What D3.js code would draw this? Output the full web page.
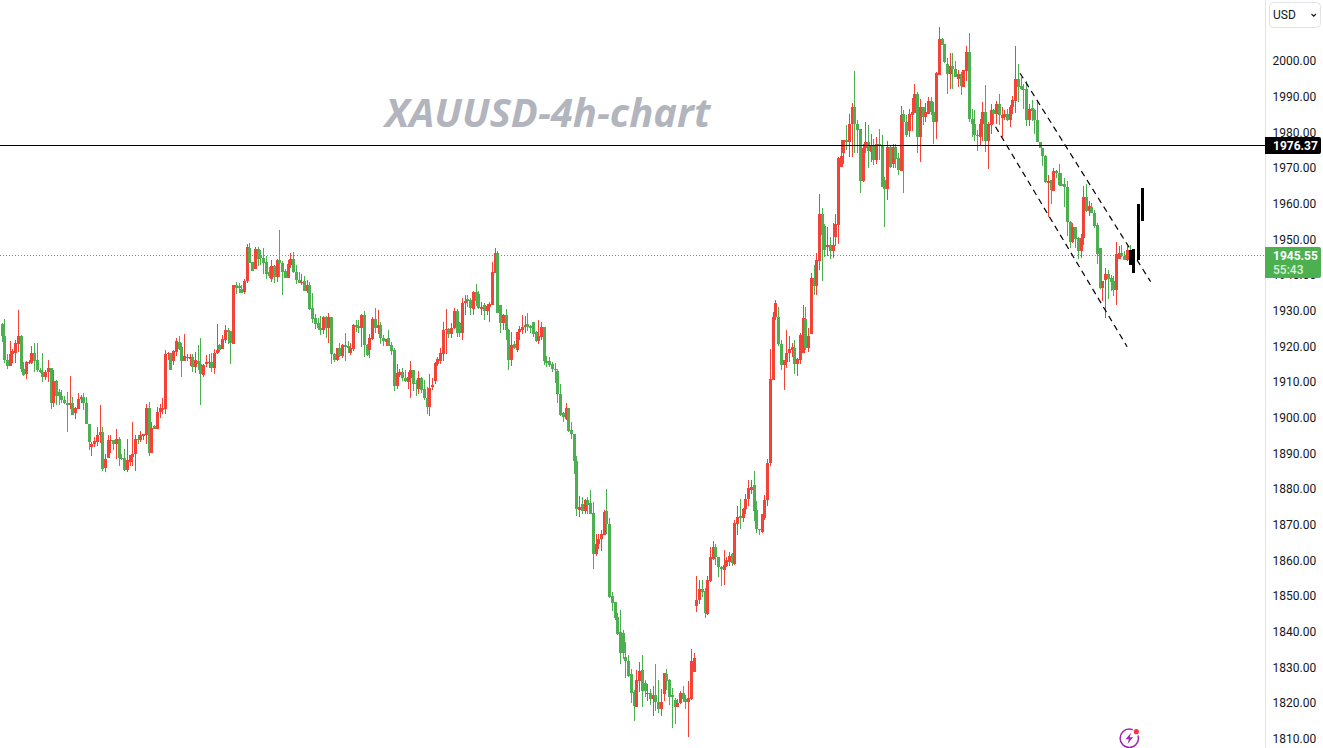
<!DOCTYPE html>
<html><head><meta charset="utf-8">
<style>html,body{margin:0;padding:0;background:#fff;overflow:hidden}svg{display:block}</style>
<script src="https://cdnjs.cloudflare.com/ajax/libs/d3/7.8.5/d3.min.js"></script>
</head><body><div id="c"></div>
<script>
// Each row: [open, high, low, close]. Red candle = close above open, green = close below open.
const legA=[[1926,1926.2,1921,1922.6],[1922.6,1927.4,1915.1,1915.9],[1916,1917.5,1913.5,1914.3],[1914.3,1921.2,1914.2,1917.6],[1917.6,1919,1915.1,1918.4],[1917.9,1921.5,1915.1,1920.7],[1920.5,1929.9,1918.2,1922.6],[1922.6,1922.8,1912.6,1913.3],[1913.3,1915.5,1911.5,1911.7],[1911.9,1915.6,1910.6,1915.4],[1915,1915.9,1914.9,1915.3],[1915,1919.8,1914.9,1917.9],[1917.9,1920.7,1912.6,1915.7],[1915.9,1920.6,1912.6,1913],[1913.1,1913.6,1912.2,1912.6],[1912.7,1917.8,1909.7,1911.2],[1911.1,1913.1,1910.3,1912.5],[1912.5,1916,1909.8,1913.7],[1913.7,1913.8,1902.1,1904],[1904,1913.1,1902.8,1910],[1910.1,1910.3,1903.3,1905.8],[1907,1907.9,1903.3,1905.8],[1905.8,1907.5,1904,1904.7],[1904.8,1905.8,1903.5,1903.9],[1904,1907.1,1895.8,1903.3],[1903.3,1911.4,1902.2,1904],[1904,1905.6,1900.4,1900.5],[1901,1902.8,1899.5,1902.6],[1902.3,1906.7,1902.1,1905],[1904.9,1906.1,1903.9,1905.6],[1905.6,1906.7,1901.9,1903.9],[1903.8,1905.6,1897.9,1897.9],[1898,1898.1,1890.7,1892.9],[1891.6,1893,1889,1892.5],[1892.4,1894.4,1891.6,1893.2],[1893,1897.2,1891.8,1894.9],[1894.9,1903.3,1892.7,1895.7],[1895.7,1897.2,1884.9,1885.5],[1885.6,1889.7,1884.6,1888.1],[1888.6,1894.9,1888.6,1893.5],[1893.3,1895,1890,1893.5],[1893.4,1893.5,1890.7,1892.5],[1892.5,1896.6,1888.1,1893.7],[1893.7,1894.4,1886.2,1888.6],[1888.6,1889.5,1888,1888.4],[1888.6,1891,1884.9,1885.1],[1885.1,1893.9,1884.6,1887.9],[1887.4,1888.8,1886.2,1889.2],[1888.8,1898.6,1886.2,1889.7],[1889.5,1895,1884.8,1893.9],[1893.9,1895,1892.5,1893.6],[1893.5,1896,1893,1894.9],[1894.7,1895.2,1893.4,1895.1],[1895,1903.6,1892.5,1902.6],[1902.4,1904.2,1889,1889.9],[1889.9,1898.6,1889.9,1897],[1897.5,1897.6,1896.5,1896.6],[1896.6,1902.8,1896.5,1901.3],[1901.3,1903.7,1899.8,1902.4],[1902,1905.2,1900.9,1902.5],[1902.2,1918.7,1900.8,1917.6],[1917.7,1918.2,1916,1917.9],[1917.8,1918,1913.1,1913.1],[1915.6,1918.6,1914.5,1918.4],[1918.2,1922.2,1917.1,1921.2],[1921,1922.6,1918.7,1918.9],[1919.6,1920.6,1911.2,1915.6],[1915.6,1923.2,1915.6,1917],[1916.6,1917.6,1915.6,1916.9],[1916.3,1917.6,1914.2,1916.9],[1916.8,1917.6,1912.6,1913.9],[1913.9,1918.2,1912.4,1915.9],[1915.7,1920,1913.1,1914.8],[1914.8,1922.2,1903.4,1912],[1911.8,1914.8,1911.2,1914.5],[1914.8,1917.3,1914,1915.4],[1915.2,1917.6,1913.6,1915.4],[1915.3,1917.8,1912.6,1913.6],[1913.6,1919,1912,1917.8],[1917.8,1926,1917.6,1918.7],[1920.1,1920.3,1918.2,1918.7],[1919,1922.9,1918.9,1921.8],[1921.5,1925.7,1920.6,1924.3],[1924.2,1924.9,1920.5,1923.8],[1924,1924.1,1914.7,1920.6],[1920.4,1937,1920.4,1936.9],[1936.9,1937.9,1934.4,1936],[1936.8,1937.6,1934.6,1936],[1935.9,1936.9,1934.6,1934.8],[1934.9,1938.5,1934.4,1938],[1938,1948.4,1937.6,1947.5],[1947.3,1948.8,1943,1943],[1943.3,1943.5,1940.9,1941],[1941.5,1947.7,1941.3,1947],[1947,1947.5,1942.2,1944.2],[1945.3,1946.7,1942.5,1944.4],[1944.5,1947.2,1940,1943],[1943.3,1945,1938.7,1940],[1940.6,1942,1938.8,1939.5],[1938.5,1944,1937.8,1942.2],[1942.4,1942.5,1937.6,1939.3],[1939.3,1944.1,1937.9,1943.9],[1943.9,1952.4,1939.3,1943.2],[1943.2,1943.7,1934.1,1940.7],[1940.9,1941.3,1939,1939],[1939,1943.9,1939,1942.7],[1942.6,1945.8,1941.6,1944.2],[1944.2,1946.1,1940.4,1940.6],[1940.5,1942.5,1937.2,1938.3],[1938.3,1940.7,1937.4,1937.6],[1937.6,1940,1936.9,1937.7],[1938,1939.5,1935.3,1935.3],[1935.3,1938.3,1934.6,1936.9],[1936.9,1937.9,1929.9,1930.2],[1930.4,1934.6,1926.2,1927.4],[1927.6,1928.8,1924.7,1926],[1926.2,1927.6,1924.3,1925],[1925,1928.2,1922.9,1924.3],[1924.3,1928.2,1923.2,1927.9],[1927.9,1928.2,1922.2,1925],[1925,1929,1920.8,1927.9]];
const legB=[[1928,1928.1,1914.8,1917.5],[1917.5,1917.8,1915.4,1915.9],[1915.9,1919.4,1915.7,1919.3],[1919.4,1920.6,1916.8,1917],[1917,1920.4,1916.6,1920],[1920,1923.4,1915.7,1919.6],[1919.8,1921.2,1917.8,1919.2],[1918,1920.6,1917.3,1919.2],[1919,1925.9,1918.5,1925.7],[1925.7,1927.1,1923.8,1925.1],[1925.4,1927.1,1923.5,1924.8],[1924.9,1928.8,1919.6,1928.5],[1928.5,1929.7,1916.8,1920],[1920.2,1920.4,1917,1917.3],[1918.7,1923.2,1916.6,1922],[1921.9,1927.9,1921.5,1927.4],[1927.4,1930.4,1923.4,1924.8],[1924.9,1929.9,1923.2,1925.7],[1925.7,1926.6,1920.4,1922.2],[1922.2,1922.9,1919.8,1921.2],[1921,1921.9,1919.8,1921.8],[1922,1924.3,1919.8,1919.8],[1920,1921,1917.3,1918.5],[1918.7,1919.4,1907.2,1908.7],[1908.7,1914.8,1907.8,1912.2],[1911.7,1913.3,1911.2,1912.5],[1912.5,1913.6,1910,1910.9],[1910.9,1913,1909.9,1910],[1909.7,1912.6,1907.8,1911.1],[1911,1915.6,1905.3,1913.1],[1913.1,1913.1,1907.3,1909.3],[1909.5,1910.3,1905.9,1909.2],[1907.9,1912.8,1906.4,1910.9],[1910.9,1911.1,1906.6,1907.5],[1907.9,1910.3,1904.7,1905.2],[1905.2,1908.4,1900.8,1902.8],[1902.8,1911.9,1900.3,1908],[1908.3,1910.8,1907.5,1908.9],[1910.1,1915.4,1909.3,1915.2],[1914.8,1916.8,1914.2,1916.1],[1915.7,1919.4,1914.8,1917.8],[1917.6,1926.5,1915.6,1924.3],[1924.2,1930.2,1917.6,1924.5],[1924.7,1925,1922,1923.2],[1923.3,1926.4,1922.2,1924.9],[1924.8,1930.4,1924.5,1929.6],[1929.6,1930.1,1922.4,1923.6],[1926.3,1926.6,1922.4,1923.6],[1923.6,1933.2,1921.5,1931.8],[1931.8,1934.1,1928.5,1932.4],[1932.9,1934.1,1930.9,1932.4],[1932.7,1933.2,1928.5,1930.5],[1930.2,1935.2,1928.5,1935],[1934.9,1937.2,1931,1932.6],[1934.4,1935.2,1930.1,1930.5],[1930.2,1932.2,1928.5,1930.7],[1931.3,1932,1927.1,1929.7],[1929.7,1931.6,1928.5,1931.1],[1930.7,1932.2,1926.6,1931.6],[1931.3,1943.5,1931.3,1940.6],[1940.2,1947.2,1940.2,1945.8],[1946,1946.6,1929.2,1929.2],[1931.3,1931.3,1923.4,1926.4],[1926.4,1928.8,1924.3,1928.5],[1928.5,1930.2,1921.5,1924.3],[1924.3,1924.5,1913,1915.9],[1915.9,1923.8,1914.3,1920.1],[1920.4,1921.2,1918.9,1919.2],[1918.7,1923.8,1918.2,1923.8],[1923.7,1925.4,1921.5,1924.6],[1924.3,1928.5,1923.2,1925.1],[1925.2,1928.2,1923.6,1925.7],[1926,1929,1924.1,1925.2],[1925.4,1925.7,1923.6,1925],[1926.6,1926.6,1922.4,1923.2],[1923.8,1924.1,1921,1921.3],[1921.3,1927.1,1920.4,1922.6],[1922.4,1926.6,1921.5,1925.1],[1925.1,1925.2,1914.5,1915.7],[1915.6,1917,1914,1915.2],[1915.6,1916.8,1914,1914.5],[1914.8,1915.4,1912.6,1913.3],[1913.5,1915.2,1909.4,1913.3],[1912.8,1913.3,1903.8,1906.4],[1906.5,1909.2,1900.2,1900.5],[1901.1,1901.3,1898.6,1899.9],[1899.4,1903.8,1899.1,1902.5],[1902.4,1902.5,1895.8,1896.1],[1896.3,1898.6,1893.9,1895.2],[1895.3,1895.3,1884.1,1887.7],[1887.5,1889,1872.2,1874.2],[1874,1877.8,1872,1874.6],[1875.5,1877.6,1872.9,1873.6],[1873.5,1877.1,1872.9,1876.8],[1876.8,1877.6,1872.9,1875.2],[1875.9,1879.4,1872.7,1872.9]];
const legC=[[1873,1876,1857.4,1861.6],[1861.6,1867.2,1861,1864.5],[1864.5,1867.2,1863.1,1865.7],[1865.7,1868.3,1862.5,1867.2],[1866.9,1873.9,1866.9,1873.4],[1873.6,1879.8,1867.2,1870.1],[1870.1,1871.7,1849.1,1849.6],[1849.8,1850.8,1845.7,1847.9],[1848,1848.2,1843.2,1843.5],[1843.8,1844.9,1838.8,1839.1],[1839.6,1846,1830.7,1833.9],[1839.5,1840.4,1832,1833.9],[1832.8,1836.8,1826.7,1831.6],[1831.6,1833.2,1827.2,1827.3],[1827.8,1829.2,1819.9,1822.7],[1823,1823.4,1814.8,1819],[1818.7,1829,1818.6,1826.2],[1826,1831.4,1823,1828.7],[1829,1833.2,1818.7,1823.2],[1825.3,1826.2,1821.6,1823.2],[1822.3,1825.1,1820.4,1822.5],[1822.5,1823.6,1819.2,1820.9],[1820.9,1824.5,1816.1,1822],[1822,1830.7,1817.6,1820.2],[1820.2,1826.2,1817,1818.1],[1818.1,1823.6,1816.1,1820.2],[1822.3,1828.1,1820.4,1828.1],[1828,1829.2,1823.4,1826],[1826.2,1826.4,1819.2,1821.6],[1822,1823.9,1812.9,1821.4],[1820.6,1821.1,1813.9,1818.6],[1818.6,1820.8,1818.6,1819.7],[1819.9,1823.2,1819.4,1822.5],[1822.5,1824.5,1820.2,1821],[1821,1822,1818,1820.2],[1820.2,1825.9,1810.3,1821.1],[1820.9,1834.9,1820.6,1831.6],[1828.6,1833.9,1828.6,1832.3]];
const legD=[[1847,1855.4,1845.4,1848.8],[1848.8,1854.3,1847.5,1851.7],[1851.7,1854.3,1849.6,1851],[1851.2,1851.9,1843.7,1845.1],[1844.7,1855.4,1844.5,1854.3],[1854,1863.6,1853.8,1860.6],[1860.1,1865.2,1859.9,1863.4],[1863.4,1864.5,1858.4,1860.6],[1860.6,1860.6,1855,1858],[1858,1858.2,1852.6,1857.3],[1857.1,1862.7,1852.9,1858.5],[1858.2,1860.6,1858,1860],[1859.4,1862,1858.2,1861],[1861.5,1861.8,1858.2,1859.1],[1858.9,1871.1,1858.5,1870.3],[1870,1875,1866.8,1871.8],[1872.2,1877.1,1868.7,1871.7],[1871.7,1874.4,1870.6,1874.2],[1874.3,1878.5,1872.7,1877.1],[1877,1882.4,1875,1880.1],[1879.5,1882.4,1878.5,1880.2],[1880.9,1884.8,1870.9,1873.7],[1873.8,1876.4,1867.5,1868.7],[1868.7,1868.7,1866.8,1868.2],[1867.8,1872.9,1867.5,1872.7],[1871.7,1878,1871,1876.8],[1876.8,1888.1,1875,1887.2],[1887.1,1919,1886.2,1910.6]];
const legE=[[1910.3,1929.4,1910.3,1928],[1928,1932.7,1927.1,1932],[1927.9,1930.8,1919.8,1920.3],[1920.3,1921.5,1913.1,1914.5],[1914.5,1915.9,1907.5,1915.9],[1915.4,1924.3,1913.6,1917.8],[1917.8,1922.6,1915.4,1918.9],[1918.7,1920.6,1916.8,1919.6],[1919.2,1921.5,1912.1,1914.8],[1914.8,1916.6,1911.4,1916.2],[1915.9,1923.4,1914.8,1922.9],[1917.9,1931.3,1917.8,1927.6],[1927.3,1930.7,1918.7,1919.4],[1919.2,1924.8,1918.1,1922.6],[1923.2,1940.2,1923.2,1938.8],[1938.8,1942.5,1934.1,1936.6],[1936.6,1945.8,1934.1,1943.9],[1943.7,1962.4,1941.1,1956.8],[1956.8,1958.4,1938.1,1950.9],[1953.6,1954,1944.9,1946.7],[1947.7,1953.3,1945.1,1948.1],[1948.1,1950.5,1944.1,1946.5],[1946.5,1954.2,1944.6,1948.1],[1950.5,1956.8,1947.9,1954],[1953.9,1972.9,1948.4,1972.5],[1969.9,1977.6,1969.9,1973],[1974,1977.6,1970.8,1977.5],[1977.6,1981.8,1974.8,1977.1],[1977.1,1985,1972.9,1982.2],[1982.2,1987.9,1972.9,1986.9],[1986.9,1996.9,1974,1982],[1982.2,1983.2,1973.8,1980.4],[1980.6,1980.6,1962.8,1966.2],[1966.2,1976.4,1965.9,1975.2],[1975.2,1982.6,1974,1977.1],[1977.1,1981.8,1969.6,1974.6],[1974.3,1979.3,1971.5,1975.9],[1975.9,1977.9,1970.6,1972],[1972,1978.3,1970.8,1976.4],[1976.4,1980.7,1972.1,1976.1],[1976.2,1979,1964.5,1964.5],[1966.4,1967.3,1953.3,1963.8],[1963.8,1977.3,1960.7,1975.5],[1975.5,1976.2,1969.6,1970.1],[1970.8,1976.6,1969.6,1975.5],[1975.5,1976.6,1969.6,1972.3],[1972.4,1974,1967.8,1969.2],[1969,1987.1,1969,1984.6],[1984.9,1986,1962.8,1982.7],[1982.7,1984.6,1978.5,1979],[1980.1,1986.2,1978.5,1984.9],[1984.6,1989.4,1980.2,1985.5],[1985.2,1993.3,1985.2,1990.5],[1990.5,1990.9,1974,1978.5],[1978.5,1989,1971.5,1986.7],[1986.7,1986.9,1981.8,1983.9],[1983.9,1987.9,1982.5,1985.5],[1984.9,1989.5,1984.9,1988.5],[1988.5,1989.5,1984.6,1985.3],[1985.5,1988.3,1976.4,1982.7],[1982.7,1996.7,1977.9,1996.3],[1995.8,2009.3,1995.8,2005.8]];
const legF=[[2005.9,2006.3,2004.2,2004.2],[2004.5,2004.6,1999.2,1999.3],[1999,2000.6,1990.5,1996],[1996,2002.1,1992,1998.3],[1998.3,2002.1,1991.8,1997.4],[1997.4,1999.7,1995.1,1995.1],[1994.7,1997.2,1992.5,1996.1],[1996.1,1996.7,1990.3,1992.7],[1992.3,1997.2,1992.3,1997.1],[1997,2003.9,1994.2,2002.2],[2002.2,2007.5,1982.7,1983.5],[1983.6,1986.4,1978.5,1982.2],[1982,1986,1977.4,1978.9],[1979.1,1980.5,1974.6,1978.8],[1978.5,1983.4,1975.9,1982.2],[1982,1988.1,1977.4,1985.3],[1985.3,1993,1974.3,1977.4],[1977.4,1982.7,1969.4,1982],[1981.8,1987.8,1979.2,1986],[1986,1986.4,1982.2,1984.8],[1984.8,1988.5,1982,1987.8],[1987.8,1990.6,1981.8,1984.6],[1983.8,1986.7,1978.3,1984.6],[1984,1986,1983.2,1985],[1985,1986.2,1983,1983.3],[1983.2,1987.4,1981.3,1986.7],[1986.7,1989.9,1985,1988.8],[1988.6,2003.9,1985.2,1994.8],[1994.8,1998.9,1988.3,1992.5],[1992.7,1995.3,1991.6,1991.8],[1991.9,1993.4,1986.4,1991.8],[1991.9,1994,1981.5,1983.2],[1983.2,1987.8,1981.5,1986.4],[1986.6,1988.8,1983,1985.8],[1985.9,1986.4,1979.2,1983.2],[1983.3,1988.5,1976.9,1977.1],[1977,1977.1,1975.2,1975.2],[1975.2,1975.2,1970.4,1973.2],[1973.2,1973.3,1965.4,1965.7],[1965.5,1967.7,1956,1966.2],[1966.3,1966.4,1959.6,1963.5],[1963.3,1969.6,1963.3,1968.8],[1968.8,1969.2,1967,1968.2],[1968.3,1970.8,1964.7,1964.9],[1965.2,1968.4,1964.6,1964.7],[1965.2,1966.8,1958.9,1964.5]];
const legG=[[1964.5,1966.1,1950.8,1954.5],[1954.6,1955,1947.2,1949.1],[1949.1,1954.2,1948.6,1953.3],[1953.3,1953.3,1947.2,1949.7],[1950,1950.5,1944.1,1946.5],[1946.5,1951.2,1944.4,1950],[1950.1,1964.7,1948.1,1961.7],[1961.7,1965.2,1957.4,1957.7],[1957.7,1960.5,1956.3,1959.1],[1958.9,1960,1957,1957],[1957.2,1958,1953,1953.6],[1953.7,1954.2,1942.8,1945.7],[1947.2,1947.2,1935.9,1936.2],[1936.2,1938,1932.4,1938],[1938.3,1941.6,1927.8,1940],[1940,1941.1,1933,1938.7],[1938.9,1939.7,1935.3,1937.9],[1938,1939.4,1933.8,1935.5],[1935.5,1949,1931.3,1945.6],[1944.3,1947.9,1944.3,1945.8],[1945.8,1948.1,1944.9,1945.2],[1945.2,1946.5,1943.9,1943.9],[1944,1947.9,1943.7,1946.8],[1946.8,1948.1,1944.7,1945.55]];

// Hand-drawn black projection bars: bar position in candle units, top price, bottom price
const penBarIndex=[414.3,415.4,416.9,418.4];
const penBarTop=[1946.7,1947,1959.6,1964.1];
const penBarBottom=[1942.5,1940.4,1943.9,1955];

// Dashed channel lines, bar position in candle units and price
const channelUpperIndex=[373.8,421.7], channelUpperPrice=[1996.3,1937.9];
const channelLowerIndex=[364.8,413.1], channelLowerPrice=[1981.3,1919.65];

const priceTicks=[2000,1990,1980,1970,1960,1950,1940,1930,1920,1910,1900,1890,1880,1870,1860,1850,1840,1830,1820,1810];
const supportLevel=1976.37, lastPrice=1945.55, countdown="55:43";
const titleText="XAUUSD-4h-chart", currency="USD";

const W=1323,H=748,axisX=1265;
const UP="#f44336",DOWN="#4caf50";
const candles=[...legA,...legB,...legC,...legD,...legE,...legF,...legG];
const x=d3.scaleLinear().domain([0,candles.length-1]).range([1.5,1129.6]);
const y=d3.scaleLinear().domain([2000,1810]).range([61,739]);
const svg=d3.select("#c").append("svg").attr("width",W).attr("height",H).style("font-family","Roboto, 'Open Sans', sans-serif");

// title
svg.append("text").attr("x",385).attr("y",126.5).attr("fill","#b2b5be").style("font-family","'Open Sans'")
  .style("font-size","40px").style("font-weight",700).style("font-style","italic").text(titleText);

// level lines
svg.append("line").attr("x1",0).attr("x2",axisX).attr("y1",Math.floor(y(lastPrice))+.5).attr("y2",Math.floor(y(lastPrice))+.5)
  .attr("stroke",DOWN).attr("stroke-dasharray","1 2");

// candles
const gc=svg.append("g").attr("transform","translate(0,-1)").attr("shape-rendering","crispEdges");
const col=d=>d[3]>=d[0]?UP:DOWN;
const px=(d,i)=>Math.round(x(i));
gc.selectAll(".w").data(candles).join("rect").attr("class","w")
  .attr("x",(d,i)=>px(d,i)).attr("width",1)
  .attr("y",d=>y(d[1])).attr("height",d=>Math.max(1,y(d[2])-y(d[1]))).attr("fill",col);
gc.selectAll(".b").data(candles).join("rect").attr("class","b")
  .attr("x",(d,i)=>px(d,i)-1).attr("width",3)
  .attr("y",d=>y(Math.max(d[0],d[3]))).attr("height",d=>Math.max(1,Math.abs(y(d[0])-y(d[3])))).attr("fill",col);

svg.append("line").attr("x1",0).attr("x2",axisX).attr("y1",145.5).attr("y2",145.5).attr("stroke","#000");

// channel
const chan=d3.line().x(d=>x(d[0])).y(d=>y(d[1])-1);
[[channelUpperIndex,channelUpperPrice],[channelLowerIndex,channelLowerPrice]].forEach(([a,b])=>{
  svg.append("path").attr("d",chan(d3.zip(a,b))).attr("fill","none").attr("stroke","#000").attr("stroke-width",1.2).attr("stroke-dasharray","6 4.5");
});
// pen bars
svg.append("g").attr("shape-rendering","crispEdges").selectAll("rect").data(penBarIndex).join("rect")
  .attr("x",d=>Math.round(x(d))-1).attr("width",3)
  .attr("y",(d,i)=>y(penBarTop[i])-1).attr("height",(d,i)=>y(penBarBottom[i])-y(penBarTop[i])).attr("fill","#000");

// right scale
svg.append("rect").attr("x",axisX+1).attr("y",0).attr("width",W-axisX-1).attr("height",H).attr("fill","#fff");
svg.append("line").attr("x1",axisX+.5).attr("x2",axisX+.5).attr("y1",0).attr("y2",H).attr("stroke","#e0e3eb");
const ax=svg.append("g").attr("transform",`translate(${axisX},-0.2)`).call(d3.axisRight(y).tickValues(priceTicks).tickSize(0).tickPadding(7.5).tickFormat(d3.format(".2f")));
ax.select(".domain").remove();
ax.selectAll("text").attr("fill","#131722").style("font-size","12px").style("font-family","Roboto, sans-serif");

function label(y0,h,fill){
  svg.append("path").attr("fill",fill)
    .attr("d",`M${axisX} ${y0}H1319a2 2 0 0 1 2 2V${y0+h-2}a2 2 0 0 1 -2 2H${axisX}Z`);
}
label(137,17,"#000");
svg.append("text").attr("x",1273).attr("y",150).attr("fill","#fff").style("font-size","12px").style("font-weight",700).text(d3.format(".2f")(supportLevel));
label(247,31,DOWN);
svg.append("text").attr("x",1273).attr("y",260).attr("fill","#fff").style("font-size","12px").style("font-weight",700).text(d3.format(".2f")(lastPrice));
svg.append("text").attr("x",1273).attr("y",274).attr("fill","#dbefdc").style("font-size","12px").style("font-weight",500).text(countdown);

// currency button
svg.append("rect").attr("x",1269.5).attr("y",2.5).attr("width",51).attr("height",25).attr("rx",4).attr("fill","#fff").attr("stroke","#e0e3eb");
svg.append("text").attr("x",1273).attr("y",19).attr("fill","#131722").style("font-size","12px").text(currency);
svg.append("path").attr("d","M1311.5 14l2.2 2.2 2.2-2.2").attr("fill","none").attr("stroke","#131722").attr("stroke-width",1.1);

// lightning badge
const gi=svg.append("g").attr("transform","translate(1129.3,738.3)");
gi.append("circle").attr("r",9.2).attr("fill","none").attr("stroke","#9c27b0").attr("stroke-width",1.5);
gi.append("path").attr("d","M1.8-5.6L-3.8 1H-.4L-1.8 5.6L3.8-1H.4Z").attr("fill","#9c27b0");
gi.append("circle").attr("cx",7).attr("cy",-6.6).attr("r",4).attr("fill","#fff");
gi.append("circle").attr("cx",7).attr("cy",-6.6).attr("r",2.6).attr("fill","#f23645");
</script></body></html>
